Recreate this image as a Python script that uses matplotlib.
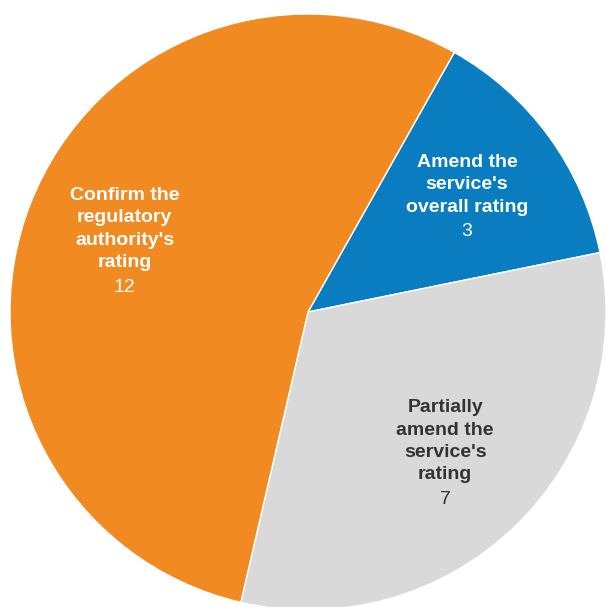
import numpy as np
import matplotlib.pyplot as plt

labels = ["Amend the\nservice's\noverall rating",
          "Partially\namend the\nservice's\nrating",
          "Confirm the\nregulatory\nauthority's\nrating"]
values = [3, 7, 12]
colors = ['#0A7DC0', '#D9D9D9', '#F28A22']
text_colors = ['white', '#333333', 'white']

fig = plt.figure(figsize=(6.06, 6.07), dpi=100)
ax = fig.add_axes([0, 0, 1, 1])
wedges, _ = ax.pie(values, colors=colors, startangle=60.6, counterclock=False,
                   wedgeprops=dict(edgecolor='white', linewidth=1))

# pie centre at about (308, 312) px, radius 298 px
ax.set_xlim(-308 / 298, 298 / 298)
ax.set_ylim(-295 / 298, 312 / 298)
ax.set_aspect('auto')
ax.axis('off')

lh = 16.8  # line height in points
for w, lab, val, tc in zip(wedges, labels, values, text_colors):
    mid = np.deg2rad((w.theta1 + w.theta2) / 2)
    x, y = 0.66 * np.cos(mid), 0.66 * np.sin(mid)
    n = lab.count('\n') + 1
    ax.annotate(lab, (x, y), xytext=(0, lh / 2), textcoords='offset points',
                ha='center', va='center', fontsize=14, fontweight='bold',
                color=tc, family='Liberation Sans', linespacing=1.42)
    ax.annotate(str(val), (x, y), xytext=(0, -n * lh / 2), textcoords='offset points',
                ha='center', va='center', fontsize=14, color=tc,
                family='Liberation Sans')

fig.savefig('out.png', dpi=100)
